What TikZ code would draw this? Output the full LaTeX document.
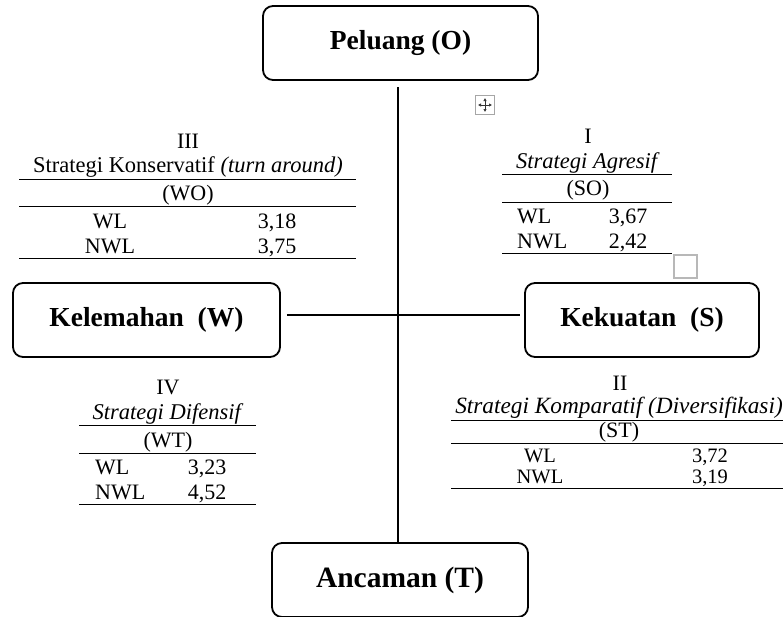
\documentclass[tikz,border=0pt]{standalone}
\usepackage{fontspec}
\setmainfont{Liberation Serif}
\usepackage{tikz}
\usetikzlibrary{arrows.meta,calc}
\usepackage{xcolor}
\definecolor{HandleGray}{HTML}{A6A6A6}

\tikzset{
    swotbox/.style={draw, line width=1.8pt, rounded corners=10pt, inner sep=0pt,
        minimum height=74pt, font=\fontsize{27.5}{30}\selectfont\bfseries},
    celltxt/.style={inner sep=0pt, anchor=base, font=\fontsize{22}{26}\selectfont},
    cellname/.style={celltxt, font=\fontsize{22.5}{26}\selectfont},
    cellsmall/.style={celltxt, font=\fontsize{20.5}{24}\selectfont},
    tabrule/.style={line width=1pt},
    axisline/.style={line width=1.5pt}
}

\begin{document}
\begin{tikzpicture}[x=1pt,y=-1pt]
    \useasboundingbox (0,0) rectangle (783,616);
    \clip (0,0) rectangle (783,616);

    \node[swotbox, minimum width=275pt] (pel) at (400.5,43) {Peluang (O)};
    \node[swotbox, minimum width=267pt] (kel) at (146.5,320) {Kelemahan\ \ (W)};
    \node[swotbox, minimum width=234pt] (kek) at (642,320) {Kekuatan\ \ (S)};
    \node[swotbox, minimum width=256pt, font=\fontsize{29.5}{32}\selectfont\bfseries] (anc) at (400,580) {Ancaman (T)};

    \coordinate (vtop) at (398,87);
    \draw[axisline] (vtop) -- (vtop |- anc.north);
    \draw[axisline] ([xshift=6pt,yshift=5pt]kel.east) -- ([xshift=-4pt,yshift=5pt]kek.west);

    % kuadran III
    \node[celltxt] (wonum) at (188,148) {III};
    \node[cellname] (woname) at (188,172) {Strategi Konservatif \textit{(turn around)}};
    \draw[tabrule] (19,179) -- (356,179);
    \node[celltxt] (wocode) at (188,200) {(WO)};
    \draw[tabrule] (19,206) -- (356,206);
    \node[celltxt] (wowl) at (110,228) {WL};
    \node[celltxt] (wowlv) at (277,228) {3,18};
    \node[celltxt] (wonwl) at (110,253) {NWL};
    \node[celltxt] (wonwlv) at (277,253) {3,75};
    \draw[tabrule] (19,258) -- (356,258);

    % kuadran I
    \node[celltxt] (sonum) at (588,143) {I};
    \node[cellname] (soname) at (588,168) {\textit{Strategi Agresif}};
    \draw[tabrule] (502,174) -- (672,174);
    \node[celltxt] (socode) at (588,195) {(SO)};
    \draw[tabrule] (502,202) -- (672,202);
    \node[celltxt, anchor=base west] (sowl) at (517,223) {WL};
    \node[celltxt] (sowlv) at (628,223) {3,67};
    \node[celltxt, anchor=base west] (sonwl) at (517,248) {NWL};
    \node[celltxt] (sonwlv) at (628,248) {2,42};
    \draw[tabrule] (502,253) -- (672,253);

    % kuadran IV
    \node[celltxt] (wtnum) at (168,394) {IV};
    \node[cellname] (wtname) at (168,419) {\textit{Strategi Difensif}};
    \draw[tabrule] (79,425) -- (256,425);
    \node[celltxt] (wtcode) at (168,447) {(WT)};
    \draw[tabrule] (79,453) -- (256,453);
    \node[celltxt, anchor=base west] (wtwl) at (95,474) {WL};
    \node[celltxt] (wtwlv) at (207,474) {3,23};
    \node[celltxt, anchor=base west] (wtnwl) at (95,499) {NWL};
    \node[celltxt] (wtnwlv) at (207,499) {4,52};
    \draw[tabrule] (79,504) -- (256,504);

    % kuadran II
    \node[celltxt] (stnum) at (620,390) {II};
    \node[cellname, font=\fontsize{23.3}{26}\selectfont] (stname) at (619,413) {\textit{Strategi Komparatif (Diversifikasi)}};
    \draw[tabrule] (451,420) -- (783,420);
    \node[celltxt] (stcode) at (619,437) {(ST)};
    \draw[tabrule] (451,443) -- (783,443);
    \node[cellsmall] (stwl) at (540,462) {WL};
    \node[cellsmall] (stwlv) at (710,462) {3,72};
    \node[cellsmall] (stnwl) at (540,483) {NWL};
    \node[cellsmall] (stnwlv) at (710,483) {3,19};
    \draw[tabrule] (451,488) -- (783,488);

    \node[draw=HandleGray, line width=0.8pt, minimum size=19pt, inner sep=0pt] (move) at (485,105) {};
    \draw[gray!40!black, line width=0.9pt, {Latex[length=3pt,width=3.5pt]}-{Latex[length=3pt,width=3.5pt]}]
        ([xshift=-7pt]move.center) -- ([xshift=7pt]move.center);
    \draw[gray!40!black, line width=0.9pt, {Latex[length=3pt,width=3.5pt]}-{Latex[length=3pt,width=3.5pt]}]
        ([yshift=-7pt]move.center) -- ([yshift=7pt]move.center);
    \node[draw=HandleGray!80, line width=1.2pt, minimum size=23pt, inner sep=0pt] (handle) at (685.5,266.5) {};
\end{tikzpicture}
\end{document}
